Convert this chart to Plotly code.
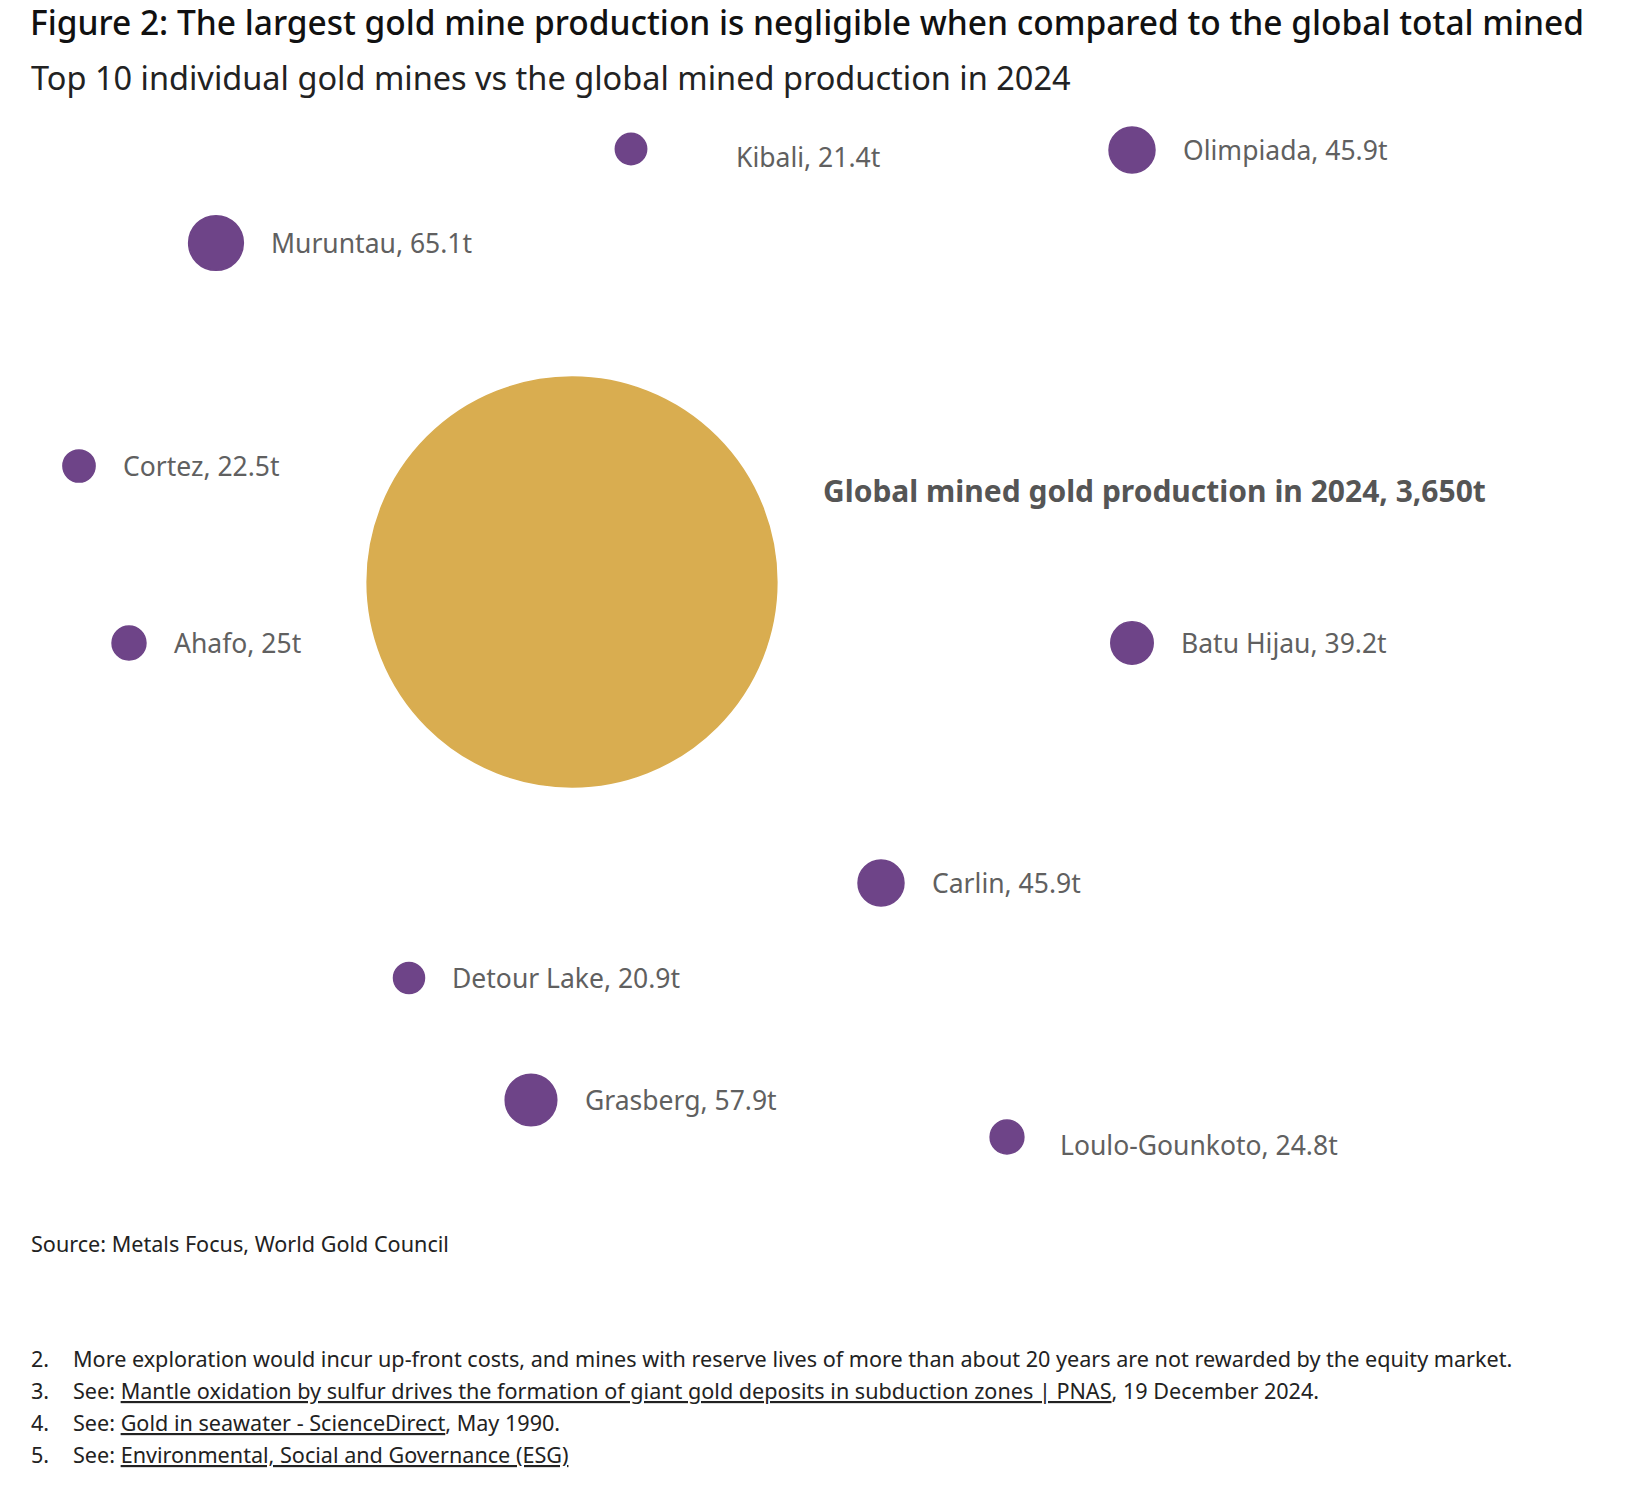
import math
import plotly.graph_objects as go

# mines and the global total (tonnes, 2024)
mines = ["Kibali", "Olimpiada", "Muruntau", "Cortez", "Ahafo", "Batu Hijau",
         "Carlin", "Detour Lake", "Grasberg", "Loulo-Gounkoto"]
tonnes = [21.4, 45.9, 65.1, 22.5, 25, 39.2, 45.9, 20.9, 57.9, 24.8]
label_val = ["21.4t", "45.9t", "65.1t", "22.5t", "25t", "39.2t", "45.9t", "20.9t", "57.9t", "24.8t"]
# bubble layout coordinates (packed, no real axis meaning)
mine_x = [623, 1124, 208, 71, 121, 1124, 873, 401, 523, 999]
mine_y = [141, 142, 235, 458, 635, 635, 875, 970, 1092, 1129]

global_name = "Global mined gold production in 2024"
global_tonnes = 3650
global_label = "3,650t"
global_x = 564
global_y = 574

footnotes = [
    ("2.", "More exploration would incur up-front costs, and mines with reserve lives of more than about 20 years are not rewarded by the equity market."),
    ("3.", "See: <span style='text-decoration:underline'>Mantle oxidation by sulfur drives the formation of giant gold deposits in subduction zones | PNAS</span>, 19 December 2024."),
    ("4.", "See: <span style='text-decoration:underline'>Gold in seawater - ScienceDirect</span>, May 1990."),
    ("5.", "See: <span style='text-decoration:underline'>Environmental, Social and Governance (ESG)</span>"),
]

W, H = 1636, 1496
FONT = "Noto Sans"
PURPLE = "#6E4488"
GOLD = "#D9AD50"
SIZEREF = 2 / 46.0
LINE_W = 1.5

fig = go.Figure()
fig.add_trace(go.Scatter(
    x=[global_x], y=[global_y], mode="markers",
    marker=dict(size=[global_tonnes], sizemode="area", sizeref=SIZEREF, opacity=1,
                color=GOLD, line=dict(color=GOLD, width=LINE_W)),
    hoverinfo="skip"))
fig.add_trace(go.Scatter(
    x=mine_x, y=mine_y, mode="markers",
    marker=dict(size=tonnes, sizemode="area", sizeref=SIZEREF, opacity=1,
                color=PURPLE, line=dict(color=PURPLE, width=LINE_W)),
    text=mines, hoverinfo="text"))

# a couple of labels sit further out / lower in the original
extra = {"Kibali": (62, -8), "Loulo-Gounkoto": (8, -8)}

for name, v, lab, x, y in zip(mines, tonnes, label_val, mine_x, mine_y):
    d = math.sqrt(2 * v / SIZEREF) + LINE_W
    dx, dy = extra.get(name, (0, 0))
    fig.add_annotation(x=x, y=y, xref="x", yref="y", text=f"{name}, {lab}",
                       showarrow=False, xanchor="left", yanchor="middle",
                       xshift=d / 2 + 25 + dx, yshift=dy,
                       font=dict(family=FONT, size=26.5, color="#606060"))

fig.add_annotation(x=global_x, y=global_y, xref="x", yref="y",
                   text=f"<b>{global_name}, {global_label}</b>",
                   showarrow=False, xanchor="left", yanchor="middle",
                   xshift=249, yshift=92,
                   font=dict(family=FONT, size=30, color="#555555"))

# titles
fig.add_annotation(x=21 / W, y=1 - 14 / H, xref="paper", yref="paper",
                   text="Figure 2: The largest gold mine production is negligible when compared to the global total mined",
                   showarrow=False, xanchor="left", yanchor="middle", borderpad=0,
                   font=dict(family=FONT, size=33.5, color="#111111", weight=500))
fig.add_annotation(x=21 / W, y=1 - 70 / H, xref="paper", yref="paper",
                   text="Top 10 individual gold mines vs the global mined production in 2024",
                   showarrow=False, xanchor="left", yanchor="middle",
                   font=dict(family=FONT, size=32.5, color="#222222"))
fig.add_annotation(x=21 / W, y=1 - 1235 / H, xref="paper", yref="paper",
                   text="Source: Metals Focus, World Gold Council",
                   showarrow=False, xanchor="left", yanchor="middle",
                   font=dict(family=FONT, size=21.6, color="#222222"))

for i, (num, txt) in enumerate(footnotes):
    yy = 1 - (1350 + i * 32) / H
    fig.add_annotation(x=21 / W, y=yy, xref="paper", yref="paper", text=num,
                       showarrow=False, xanchor="left", yanchor="middle",
                       font=dict(family=FONT, size=21.6, color="#222222"))
    fig.add_annotation(x=63 / W, y=yy, xref="paper", yref="paper", text=txt,
                       showarrow=False, xanchor="left", yanchor="middle",
                       font=dict(family=FONT, size=21.6, color="#222222"))

fig.update_xaxes(range=[0, W], visible=False, fixedrange=True)
fig.update_yaxes(range=[H, 0], visible=False, fixedrange=True)
fig.update_layout(width=W, height=H, margin=dict(l=0, r=0, t=0, b=0),
                  paper_bgcolor="white", plot_bgcolor="white",
                  showlegend=False, font=dict(family=FONT))

fig.write_html("out.html")
